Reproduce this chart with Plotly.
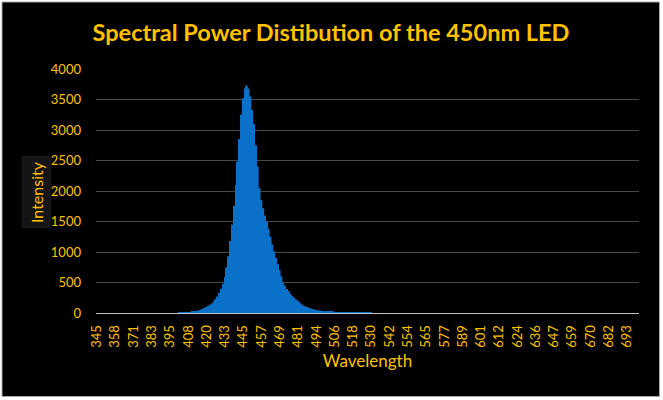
import plotly.graph_objects as go

# Tick labels (wavelength, nm) shown every 10th category
tick_labels = ["345", "358", "371", "383", "395", "408", "420", "433", "445", "457",
               "469", "481", "494", "506", "518", "530", "542", "554", "565", "577",
               "589", "601", "612", "624", "636", "647", "659", "670", "682", "693"]

n_categories = 297
lead_zeros = [0] * 45
# intensity of categories 45..150
peak_values = [
    2, 3, 4, 5, 8, 10, 13, 17, 22, 28,
    36, 46, 57, 70, 85, 100, 118, 138, 160, 190,
    225, 270, 330, 400, 480, 590, 750, 930, 1180, 1450,
    1760, 2100, 2480, 2850, 3250, 3520, 3680, 3730, 3680, 3550,
    3330, 3100, 2750, 2400, 2050, 1850, 1720, 1600, 1500, 1380,
    1250, 1120, 1010, 900, 800, 700, 600, 490, 440, 395,
    355, 315, 280, 250, 220, 195, 170, 145, 125, 110,
    98, 87, 76, 66, 57, 50, 44, 39, 35, 31,
    28, 25, 22, 20, 18, 16, 14, 13, 12, 11,
    10, 9, 8, 7, 6, 5, 4, 4, 3, 3,
    3, 2, 2, 2, 2, 1,
]
tail_zeros = [0] * (n_categories - len(lead_zeros) - len(peak_values))
intensity = lead_zeros + peak_values + tail_zeros
category_index = list(range(n_categories))
tick_index = category_index[::10]

GOLD = "#FFC000"
FONT = "Lato"

fig = go.Figure()
fig.add_trace(go.Bar(
    x=category_index, y=intensity,
    marker=dict(color="#0B70C8", line=dict(width=0)),
    hoverinfo="x+y",
))

W, H = 663, 400
L, R, T, B = 96, 24, 69, 87
pw, ph = W - L - R, H - T - B

def px_x(p):
    return (p - L) / pw

def px_y(p):
    return (H - B - p) / ph

fig.update_layout(
    width=W, height=H,
    margin=dict(l=L, r=R, t=T, b=B),
    paper_bgcolor="white",
    plot_bgcolor="black",
    bargap=0.06,
    showlegend=False,
    title=dict(text="<b>Spectral Power Distibution of the 450nm LED</b>",
               x=331 / W, xref="container", xanchor="center",
               y=1 - 33 / H, yref="container", yanchor="middle",
               font=dict(family=FONT, size=23.5, color=GOLD)),
    xaxis=dict(
        range=[-0.5, n_categories - 0.5],
        tickmode="array", tickvals=tick_index, ticktext=tick_labels,
        tickangle=-90, tickfont=dict(family=FONT, size=13, color=GOLD),
        showgrid=False, zeroline=False,
        showline=True, linecolor="#BFBFBF", linewidth=1,
        ticks="", ticklabelstandoff=6,
        title=dict(text="Wavelength", font=dict(family=FONT, size=17, color=GOLD),
                   standoff=8),
    ),
    yaxis=dict(
        range=[0, 4000], tickvals=[0, 500, 1000, 1500, 2000, 2500, 3000, 3500, 4000],
        tickfont=dict(family=FONT, size=13, color=GOLD),
        showgrid=True, gridcolor="#4A4A4A", gridwidth=1,
        zeroline=False, ticks="", ticklabelstandoff=14,
    ),
    shapes=[dict(type="rect", xref="paper", yref="paper",
                 x0=px_x(2), x1=px_x(659.5), y0=px_y(396.5), y1=px_y(2),
                 fillcolor="black", line=dict(color="#A6A6A6", width=1),
                 layer="below")],
    annotations=[dict(text="Intensity", textangle=-90,
                      xref="paper", yref="paper", x=px_x(36), y=px_y(192),
                      xanchor="center", yanchor="middle", showarrow=False,
                      font=dict(family=FONT, size=16, color=GOLD),
                      bgcolor="#151515", borderpad=5)],
)

fig.write_html("out.html")
